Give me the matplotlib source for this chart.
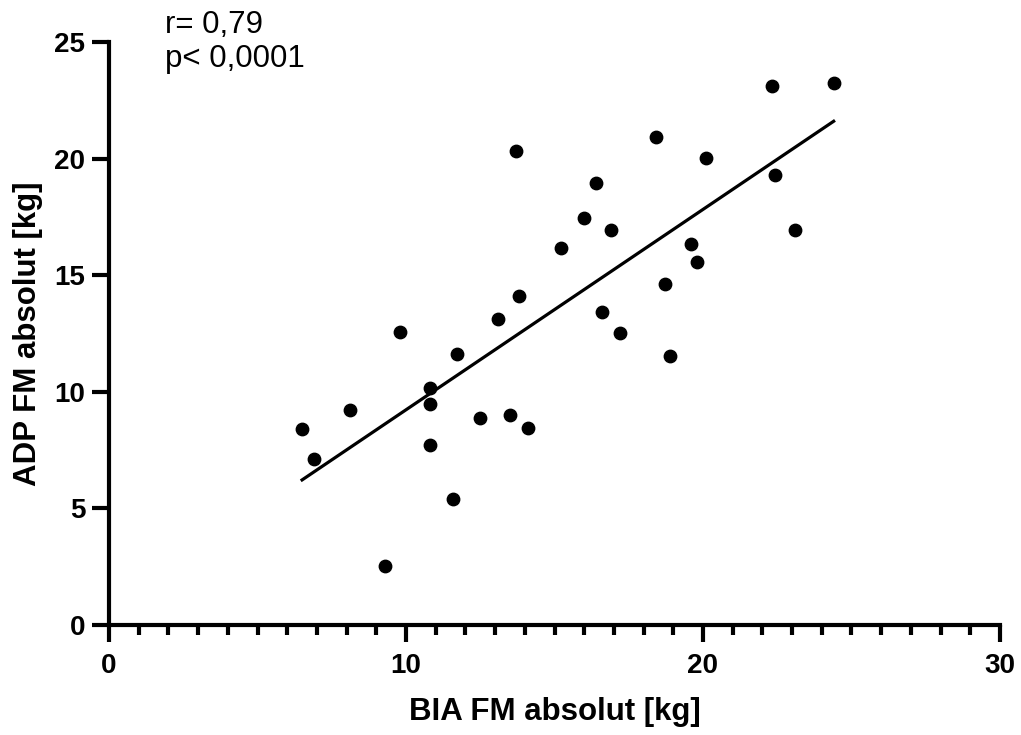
import matplotlib.pyplot as plt
from matplotlib.ticker import MultipleLocator

plt.rcParams['font.family'] = ['Liberation Sans', 'DejaVu Sans']

# BIA vs ADP fat mass
bia_fm = [6.50, 6.90, 8.11, 9.80, 9.29, 10.81, 10.81, 10.81, 11.72, 11.58,
          12.49, 13.10, 13.50, 13.80, 14.11, 13.70, 15.22, 15.99, 16.40, 16.90,
          16.60, 17.21, 18.42, 18.72, 18.89, 19.60, 19.80, 20.10, 22.32, 22.42,
          23.10, 24.41]
adp_fm = [8.41, 7.12, 9.23, 12.58, 2.53, 10.17, 9.48, 7.73, 11.63, 5.41,
          8.88, 13.13, 9.01, 14.12, 8.45, 20.34, 16.18, 17.47, 18.97, 16.95,
          13.43, 12.53, 20.94, 14.64, 11.55, 16.35, 15.58, 20.04, 23.13, 19.31,
          16.95, 23.26]

# regression line end points
fit_x = [6.5, 24.4]
fit_y = [6.22, 21.6]

fig = plt.figure(figsize=(10.21, 7.35), dpi=100)
ax = fig.add_axes([0.1068, 0.1497, 0.8726, 0.7932])

ax.scatter(bia_fm, adp_fm, s=80, color="black", zorder=3, clip_on=False)
ax.plot(fit_x, fit_y, color="black", linewidth=2.3)

ax.set_xlim(0, 30)
ax.set_ylim(0, 25)

for side in ["top", "right"]:
    ax.spines[side].set_visible(False)
for side in ["left", "bottom"]:
    ax.spines[side].set_linewidth(3)

ax.xaxis.set_major_locator(MultipleLocator(10))
ax.xaxis.set_minor_locator(MultipleLocator(1))
ax.yaxis.set_major_locator(MultipleLocator(5))

ax.tick_params(axis="both", which="major", length=12, width=3, labelsize=20, pad=8)
ax.tick_params(axis="x", which="minor", length=7, width=3)
ax.tick_params(axis="y", which="major", pad=5)
for lbl in ax.get_xticklabels() + ax.get_yticklabels():
    lbl.set_fontweight("bold")

ax.set_xlabel("BIA FM absolut [kg]", fontsize=22.5, fontweight="bold", labelpad=13)
ax.set_ylabel("ADP FM absolut [kg]", fontsize=22.5, fontweight="bold", labelpad=8)

ax.text(1.9, 26.35, "r= 0,79\np< 0,0001", fontsize=22.5, va="top", ha="left",
        linespacing=1.15, clip_on=False)

plt.savefig("out.png", dpi=100)
